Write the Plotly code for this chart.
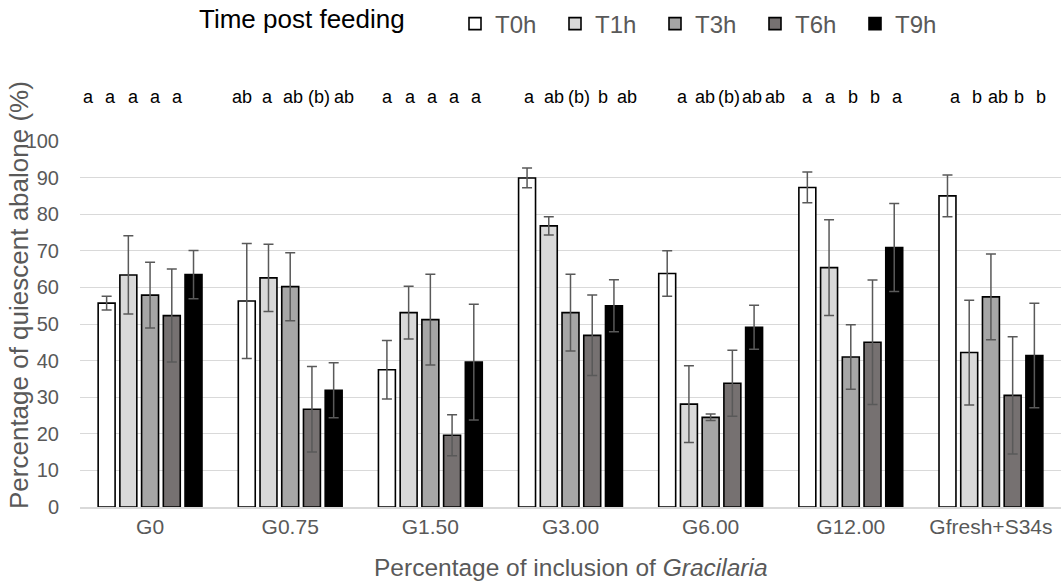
import plotly.graph_objects as go

# Diet groups (percentage of Gracilaria inclusion)
groups = ["G0", "G0.75", "G1.50", "G3.00", "G6.00", "G12.00", "Gfresh+S34s"]

# Sampling times after feeding
times = ["T0h", "T1h", "T3h", "T6h", "T9h"]

# Mean percentage of quiescent abalone per time point (one list per time)
t0h = [55.7, 56.3, 37.5, 89.9, 63.8, 87.3, 85.0]
t1h = [63.4, 62.6, 53.1, 76.8, 28.1, 65.4, 42.2]
t3h = [57.9, 60.2, 51.2, 53.1, 24.5, 41.0, 57.4]
t6h = [52.3, 26.7, 19.6, 46.9, 33.8, 45.0, 30.5]
t9h = [63.5, 31.9, 39.6, 55.0, 49.1, 70.9, 41.4]

# Error bar half-lengths (same order)
err_t0h = [1.9, 15.7, 8.0, 2.7, 6.2, 4.2, 5.7]
err_t1h = [10.7, 9.2, 7.2, 2.5, 10.5, 13.1, 14.3]
err_t3h = [9.0, 9.3, 12.4, 10.5, 0.9, 8.8, 11.7]
err_t6h = [12.7, 11.7, 5.6, 11.0, 9.0, 17.0, 16.0]
err_t9h = [6.6, 7.5, 15.8, 7.1, 6.0, 12.0, 14.3]

# Significance letters above each bar, per group (T0h..T9h)
letters_g0 = ["a", "a", "a", "a", "a"]
letters_g075 = ["ab", "a", "ab", "(b)", "ab"]
letters_g150 = ["a", "a", "a", "a", "a"]
letters_g300 = ["a", "ab", "(b)", "b", "ab"]
letters_g600 = ["a", "ab", "(b)", "ab", "ab"]
letters_g1200 = ["a", "a", "b", "b", "a"]
letters_gfresh = ["a", "b", "ab", "b", "b"]

series = [t0h, t1h, t3h, t6h, t9h]
errors = [err_t0h, err_t1h, err_t3h, err_t6h, err_t9h]
letters = [letters_g0, letters_g075, letters_g150, letters_g300,
           letters_g600, letters_g1200, letters_gfresh]

fills = ["#ffffff", "#d9d9d9", "#a6a6a6", "#767171", "#000000"]
grey_text = "#595959"
font_main = "Arial, Liberation Sans, sans-serif"

BARGAP = 0.225
PLOT_H = 366   # px height of the plotting area
PLOT_W = 981   # px width of the plotting area
LEFT = 80      # px left margin

fig = go.Figure()
for name, vals, errs, col in zip(times, series, errors, fills):
    fig.add_trace(go.Bar(
        name=name,
        x=groups,
        y=vals,
        marker=dict(color=col, line=dict(color="#000000", width=1.6)),
        error_y=dict(type="data", array=errs, visible=True,
                     color=grey_text, thickness=1.5, width=5),
    ))

# Letter row above each group: horizontal nudge and spacing in px
group_nudge = [-17, 3, 2, 8, 18, 2, 7]
group_spacing = [22.3, 25.5, 22.3, 24.3, 23.3, 22.5, 21.3]
for gi, labs in enumerate(letters):
    for ti, lab in enumerate(labs):
        fig.add_annotation(
            x=gi, y=1 + 44 / PLOT_H, xref="x", yref="paper",
            xanchor="center", yanchor="middle",
            text=lab, showarrow=False,
            xshift=group_nudge[gi] + (ti - 2) * group_spacing[gi],
            font=dict(family=font_main, size=18, color="#000000"),
        )

# Vertical axis title
fig.add_annotation(
    x=-61 / PLOT_W, y=212 / PLOT_H, xref="paper", yref="paper",
    xanchor="center", yanchor="middle",
    text="Percentage of quiescent abalone (%)", textangle=-90,
    showarrow=False,
    font=dict(family=font_main, size=26, color=grey_text),
)

# Horizontal axis title
fig.add_annotation(
    x=0.5, y=-60 / PLOT_H, xref="paper", yref="paper",
    xanchor="center", yanchor="middle",
    text="Percentage of inclusion of <i>Gracilaria</i>",
    showarrow=False,
    font=dict(family=font_main, size=24.5, color=grey_text),
)

# Legend heading
fig.add_annotation(
    x=(407 - LEFT) / PLOT_W, y=1 + 122 / PLOT_H, xref="paper", yref="paper",
    xanchor="right", yanchor="middle",
    text="Time post feeding", showarrow=False,
    font=dict(family=font_main, size=26, color="#000000"),
)

fig.update_layout(
    width=1061, height=584,
    margin=dict(l=LEFT, r=0, t=141, b=77),
    paper_bgcolor="#ffffff", plot_bgcolor="#ffffff",
    barmode="group", bargap=BARGAP, bargroupgap=0.22,
    font=dict(family=font_main, color=grey_text),
    showlegend=True,
    legend=dict(
        orientation="h",
        xref="container", yref="container",
        x=455 / 1061, y=1 - 24 / 584, xanchor="left", yanchor="middle",
        font=dict(family=font_main, size=24, color=grey_text),
        entrywidth=55,
        bgcolor="rgba(0,0,0,0)",
    ),
    xaxis=dict(
        showgrid=False, showline=True, linecolor="#d9d9d9", linewidth=1.5,
        ticks="", tickfont=dict(size=21, color=grey_text),
    ),
    yaxis=dict(
        range=[0, 100], dtick=10, showgrid=True, gridcolor="#d9d9d9",
        gridwidth=1.3, zeroline=False, showline=False, ticks="",
        tickfont=dict(size=20, color=grey_text), ticklabelstandoff=20,
    ),
)

fig.write_html("out.html")
